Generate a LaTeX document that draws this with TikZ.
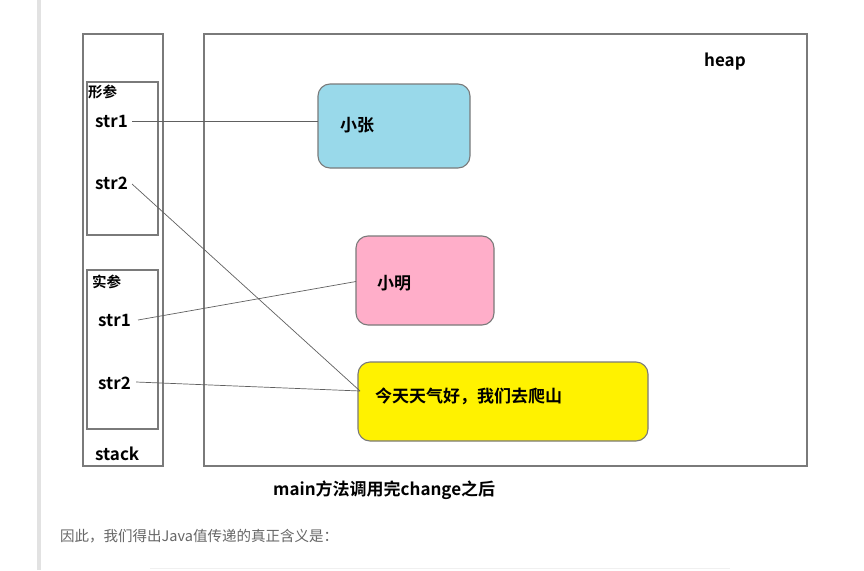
\documentclass[tikz,border=0pt]{standalone}
\usepackage{fontspec}
\setmainfont{Noto Sans CJK SC}[BoldFont={Noto Sans CJK SC Bold}]
\definecolor{boxline}{HTML}{7A7A7A}
\definecolor{conn}{HTML}{606060}
\definecolor{xzblue}{HTML}{99D9EA}
\definecolor{xmpink}{HTML}{FFAEC9}
\definecolor{tyellow}{HTML}{FFF200}
\definecolor{bartone}{HTML}{E2E2E2}
\definecolor{bodygray}{HTML}{666666}
\begin{document}
\begin{tikzpicture}[x=1pt,y=-1pt,
  frame/.style={draw=boxline, line width=1.1pt, inner sep=0pt, outer sep=0pt, anchor=north west},
  objbox/.style={frame, rounded corners=12pt},
  lbl/.style={font=\bfseries\fontsize{17}{17}\selectfont, inner sep=0pt, anchor=west},
  small/.style={font=\bfseries\fontsize{14.5}{14.5}\selectfont, inner sep=0pt, anchor=west},
  conline/.style={draw=conn, line width=0.7pt}]
\useasboundingbox (0,0) rectangle (864,570);
\fill[white] (0,0) rectangle (864,570);
% left bar
\fill[bartone] (37,0) rectangle (41,570);
% faint line at bottom
\draw[draw=black!6, line width=1pt] (150,568) -- (730,568);
% stack and heap frames
\node[frame, minimum width=80pt, minimum height=432pt] (stack) at (83,34) {};
\node[frame, minimum width=71pt, minimum height=153pt] (formal) at (87,82) {};
\node[frame, minimum width=71pt, minimum height=159pt] (actual) at (87,270) {};
\node[frame, minimum width=603pt, minimum height=432pt] (heap) at (204,34) {};
% objects in heap
\node[objbox, fill=xzblue, minimum width=152pt, minimum height=84pt] (xz) at (318,84) {};
\node[objbox, fill=xmpink, minimum width=138pt, minimum height=89pt] (xm) at (356,236) {};
\node[objbox, fill=tyellow, minimum width=290pt, minimum height=79pt] (ty) at (358,362) {};
% labels
\node[small] (formallbl) at (88,92) {形参};
\node[small] (actuallbl) at (92,282) {实参};
\node[lbl] (fs1) at (95,121) {str1};
\node[lbl] (fs2) at (95,183) {str2};
\node[lbl] (as1) at (98,320) {str1};
\node[lbl] (as2) at (98,383) {str2};
\node[lbl] (stacklbl) at (95,454) {stack};
\node[lbl] (heaplbl) at (704,62) {heap};
\node[lbl] (xztxt) at (340,125) {小张};
\node[lbl] (xmtxt) at (377,283) {小明};
\node[lbl] (tytxt) at (375,396) {今天天气好，我们去爬山};
\node[lbl] (caption) at (273,490) {main方法调用完change之后};
\node[font=\fontsize{14.5}{14.5}\selectfont, text=bodygray, inner sep=0pt, anchor=west] (body) at (60,536) {因此，我们得出Java值传递的真正含义是：};
% connectors
\coordinate (tyin) at (360,391);
\draw[conline] ([xshift=4pt]fs1.east) -- (xz.west |- fs1.east);
\draw[conline] ([xshift=4pt,yshift=-1pt]fs2.east) -- (tyin);
\draw[conline] ([xshift=7pt]as1.east) -- ([yshift=-1pt]xm.west);
\draw[conline] ([xshift=5pt,yshift=1pt]as2.east) -- (tyin);
\end{tikzpicture}
\end{document}
